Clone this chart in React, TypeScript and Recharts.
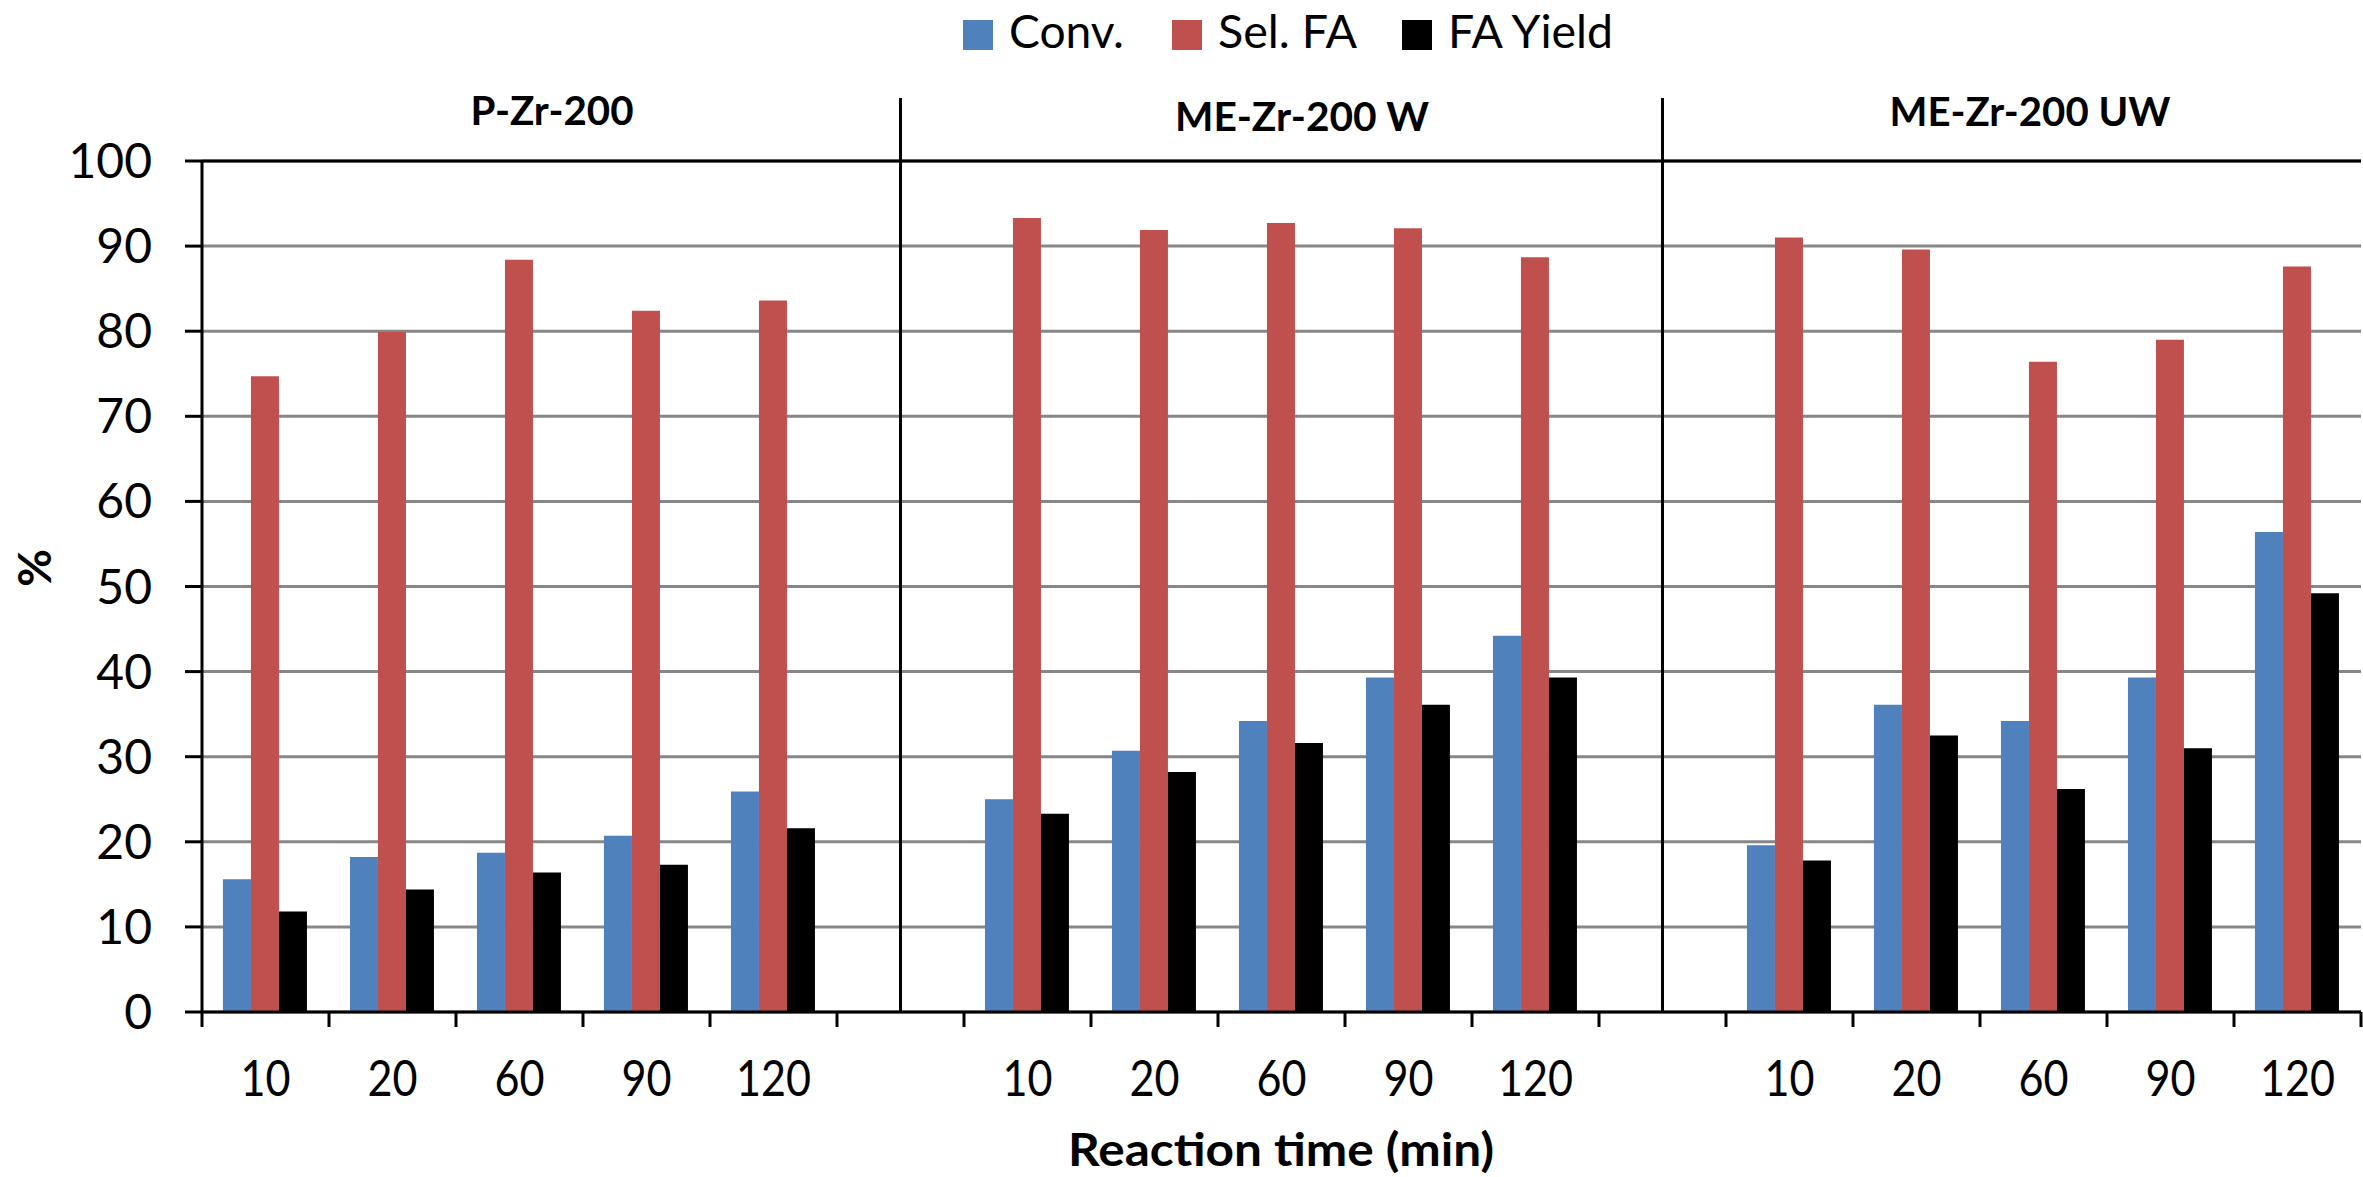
import React from 'react';
import { BarChart, Bar, XAxis, YAxis, CartesianGrid, ReferenceLine } from 'recharts';

// Reaction times (min) shared by every catalyst panel
const times = ['10', '20', '60', '90', '120'];
const panelNames = ['P-Zr-200', 'ME-Zr-200 W', 'ME-Zr-200 UW'];

// P-Zr-200
const convP = [15.6, 18.2, 18.7, 20.7, 25.9];
const selP = [74.7, 79.9, 88.4, 82.4, 83.6];
const yieldP = [11.8, 14.4, 16.4, 17.3, 21.6];

// ME-Zr-200 W
const convW = [25.0, 30.7, 34.2, 39.3, 44.2];
const selW = [93.3, 91.9, 92.7, 92.1, 88.7];
const yieldW = [23.3, 28.2, 31.6, 36.1, 39.3];

// ME-Zr-200 UW
const convUW = [19.6, 36.1, 34.2, 39.3, 56.4];
const selUW = [91.0, 89.6, 76.4, 79.0, 87.6];
const yieldUW = [17.8, 32.5, 26.2, 31.0, 49.2];

const yTicks = [0, 10, 20, 30, 40, 50, 60, 70, 80, 90, 100];
const seriesNames = ['Conv.', 'Sel. FA', 'FA Yield'];
const seriesKeys = ['conv', 'sel', 'yld'];
const seriesColors = ['#4F81BD', '#C0504D', '#000000'];

const panels = [
  { conv: convP, sel: selP, yld: yieldP },
  { conv: convW, sel: selW, yld: yieldW },
  { conv: convUW, sel: selUW, yld: yieldUW },
];

// One row per reaction time, with an empty spacer category after each panel but the last
type Row = { key: string; label: string; conv?: number; sel?: number; yld?: number };
const rows: Row[] = [];
const dividerKeys: string[] = [];
panels.forEach((p, pi) => {
  times.forEach((t, i) => {
    rows.push({ key: `p${pi}-${t}`, label: t, conv: p.conv[i], sel: p.sel[i], yld: p.yld[i] });
  });
  if (pi < panels.length - 1) {
    const k = `gap${pi}`;
    dividerKeys.push(k);
    rows.push({ key: k, label: '' });
  }
});
const labelByKey: Record<string, string> = {};
rows.forEach((r) => (labelByKey[r.key] = r.label));
const lastKey = rows[rows.length - 1].key;

const W = 2363;
const H = 1177;
const FONT = "Lato, 'Open Sans', sans-serif";

// Category label under each slot, plus boundary tick marks between slots
const renderCategoryTick = (props: any) => {
  const { x, y, payload } = props;
  const half = payload && payload.offset ? payload.offset : 63.5;
  const isLast = payload.value === lastKey;
  const label = labelByKey[payload.value];
  return (
    <g>
      <line x1={x - half} x2={x - half} y1={y} y2={y + 15} stroke="#000" strokeWidth={3} />
      {isLast && <line x1={x + half} x2={x + half} y1={y} y2={y + 15} stroke="#000" strokeWidth={3} />}
      {label && (
        <text
          x={x - (label.length * 25) / 2}
          y={y + 84}
          fontSize={50}
          fill="#000"
          fontFamily={FONT}
          textLength={label.length * 25}
          lengthAdjust="spacingAndGlyphs"
        >
          {label}
        </text>
      )}
    </g>
  );
};

const titleX = [552, 1302, 2030];
const titleY = [125, 131, 126];
const titleLen = [163, 254, 281];
const legendX = [963, 1172, 1402];
const legendLen = [115, 139, 165];

export default function App() {
  return (
    <div style={{ position: 'absolute', left: 0, top: 0, width: W, height: H, background: '#fff', fontFamily: FONT }}>
      <BarChart
        width={W}
        height={H}
        data={rows}
        margin={{ top: 161, right: 2, bottom: 65, left: 0 }}
        barCategoryGap="16.5%"
        barGap={0}
      >
        <CartesianGrid vertical={false} stroke="#878787" strokeWidth={3} />
        <XAxis
          dataKey="key"
          interval={0}
          height={100}
          tickLine={false}
          tickSize={0}
          tickMargin={0}
          axisLine={{ stroke: '#000', strokeWidth: 3 }}
          tick={renderCategoryTick}
        />
        <YAxis
          domain={[0, 100]}
          ticks={yTicks}
          width={202}
          tickSize={17}
          tickMargin={33}
          tickLine={{ stroke: '#000', strokeWidth: 3 }}
          axisLine={{ stroke: '#000', strokeWidth: 3 }}
          tick={{ fontSize: 48, fill: '#000', fontFamily: FONT }}
          interval={0}
        />
        <YAxis
          yAxisId="right"
          orientation="right"
          domain={[0, 100]}
          width={0}
          tick={false}
          tickLine={false}
          axisLine={{ stroke: '#000', strokeWidth: 3 }}
        />
        <ReferenceLine y={100} stroke="#000" strokeWidth={3} />
        {dividerKeys.map((k) => (
          <ReferenceLine
            key={k}
            ifOverflow="visible"
            segment={[
              { x: k, y: 0 },
              { x: k, y: 107.4 },
            ]}
            stroke="#000"
            strokeWidth={3}
          />
        ))}
        {seriesKeys.map((k, i) => (
          <Bar key={k} dataKey={k} name={seriesNames[i]} fill={seriesColors[i]} isAnimationActive={false} />
        ))}
      </BarChart>
      <svg
        width={W}
        height={H}
        style={{ position: 'absolute', left: 0, top: 0, pointerEvents: 'none' }}
        fontFamily={FONT}
      >
        {seriesNames.map((n, i) => (
          <g key={n}>
            <rect x={legendX[i]} y={20} width={30} height={30} fill={seriesColors[i]} />
            <text
              x={legendX[i] + 46}
              y={48}
              fontSize={46}
              fill="#000"
              textLength={legendLen[i]}
              lengthAdjust="spacingAndGlyphs"
            >
              {n}
            </text>
          </g>
        ))}
        {panelNames.map((n, i) => (
          <text
            key={n}
            x={titleX[i] - titleLen[i] / 2}
            y={titleY[i]}
            fontSize={41}
            fontWeight="bold"
            fill="#000"
            textLength={titleLen[i]}
            lengthAdjust="spacingAndGlyphs"
          >
            {n}
          </text>
        ))}
        <text
          x={1068}
          y={1166}
          fontSize={46}
          fontWeight="bold"
          fill="#000"
          textLength={426}
          lengthAdjust="spacingAndGlyphs"
        >
          Reaction time (min)
        </text>
        <text
          x={33}
          y={568}
          textAnchor="middle"
          dominantBaseline="central"
          fontSize={46}
          fontWeight="bold"
          fill="#000"
          transform="rotate(-90 33 568)"
        >
          %
        </text>
      </svg>
    </div>
  );
}
